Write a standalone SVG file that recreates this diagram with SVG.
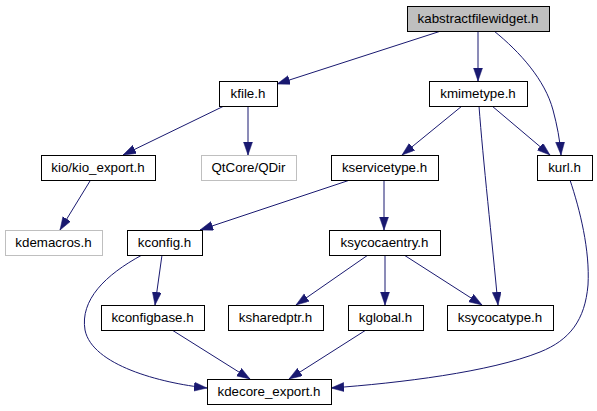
<svg xmlns="http://www.w3.org/2000/svg" width="597" height="411" viewBox="0 0 597 411">
<style>
.node rect{fill:#ffffff;stroke:#000000;stroke-width:1}
.node.root rect{fill:#bfbfbf}
.node.ext rect{stroke:#bfbfbf}
.node text{font-family:"Liberation Sans",Arial,sans-serif;font-size:13.33px;text-anchor:middle;fill:#000000}
.edges path{fill:none;stroke:#191970;stroke-width:1;marker-end:url(#arr)}
</style>
<defs>
<marker id="arr" markerUnits="userSpaceOnUse" markerWidth="14" markerHeight="10" refX="13" refY="4.5" orient="auto">
<path d="M0,0 L13,4.5 L0,9 z" fill="#191970" stroke="#191970" stroke-width="0.5"/>
</marker>
</defs>
<rect width="597" height="411" fill="#ffffff"/>
<g class="edges" id="edges">
<path d="M441,31 L277,84"/>
<path d="M478,31 L478,81"/>
<path d="M494,31 C520,52 545,80 553,110 C557,125 560,140 561,155"/>
<path d="M224,106 L123,155"/>
<path d="M248,106 L248,155"/>
<path d="M90,181 L60,230"/>
<path d="M462,106 L402,155"/>
<path d="M492,106 L550,155"/>
<path d="M479,106 C483,160 492,240 498,305"/>
<path d="M350,180 L200,230"/>
<path d="M384,180 L384,230"/>
<path d="M368,255 L296,305"/>
<path d="M385,255 L385,305"/>
<path d="M404,255 L482,305"/>
<path d="M162,255 L155,305"/>
<path d="M142,255 C105,275 80,300 85,330 C92,365 160,383 207,388"/>
<path d="M172,330 L250,379"/>
<path d="M366,330 L289,379"/>
<path d="M570,180 C580,210 590,250 588,285 C585,320 570,340 540,352 C490,372 400,383 331,388"/>
</g>
<g class="node root" id="n_kabstractfilewidget"><rect x="407.5" y="6.5" width="142" height="25"/><text x="478" y="23">kabstractfilewidget.h</text></g>
<g class="node" id="n_kfile"><rect x="219.5" y="81.5" width="58" height="25"/><text x="248" y="98">kfile.h</text></g>
<g class="node" id="n_kmimetype"><rect x="429.5" y="81.5" width="98" height="25"/><text x="478" y="98">kmimetype.h</text></g>
<g class="node" id="n_kio_export"><rect x="41.5" y="155.5" width="114" height="25"/><text x="98" y="172">kio/kio_export.h</text></g>
<g class="node ext" id="n_qdir"><rect x="201.5" y="155.5" width="95" height="25"/><text x="248.5" y="172">QtCore/QDir</text></g>
<g class="node" id="n_kservicetype"><rect x="331.5" y="155.5" width="107" height="25"/><text x="384.5" y="172">kservicetype.h</text></g>
<g class="node" id="n_kurl"><rect x="537.5" y="155.5" width="55" height="25"/><text x="564.5" y="172">kurl.h</text></g>
<g class="node ext" id="n_kdemacros"><rect x="5.5" y="230.5" width="97" height="25"/><text x="53.5" y="247">kdemacros.h</text></g>
<g class="node" id="n_kconfig"><rect x="127.5" y="230.5" width="75" height="25"/><text x="164.5" y="247">kconfig.h</text></g>
<g class="node" id="n_ksycocaentry"><rect x="329.5" y="230.5" width="111" height="25"/><text x="384.5" y="247">ksycocaentry.h</text></g>
<g class="node" id="n_kconfigbase"><rect x="101.5" y="305.5" width="103" height="25"/><text x="152.5" y="322">kconfigbase.h</text></g>
<g class="node" id="n_ksharedptr"><rect x="228.5" y="305.5" width="95" height="25"/><text x="275.5" y="322">ksharedptr.h</text></g>
<g class="node" id="n_kglobal"><rect x="348.5" y="305.5" width="75" height="25"/><text x="385.5" y="322">kglobal.h</text></g>
<g class="node" id="n_ksycocatype"><rect x="447.5" y="305.5" width="106" height="25"/><text x="500" y="322">ksycocatype.h</text></g>
<g class="node" id="n_kdecore_export"><rect x="207.5" y="379.5" width="124" height="25"/><text x="269" y="396">kdecore_export.h</text></g>
</svg>
